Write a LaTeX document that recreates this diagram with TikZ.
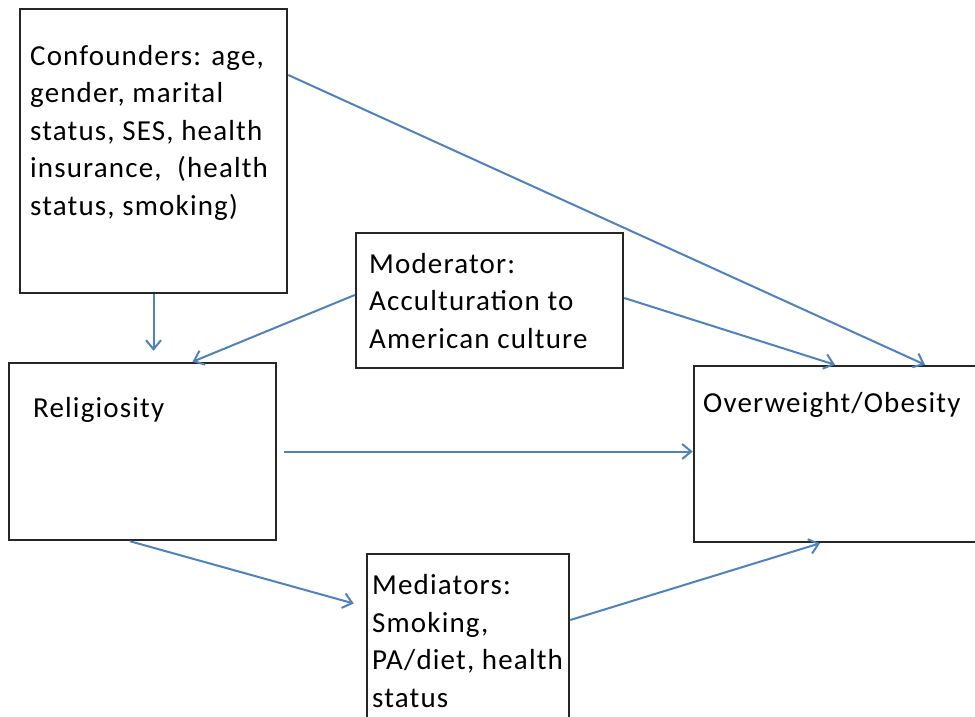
\documentclass[tikz,border=0pt]{standalone}
\usepackage{fontspec}
\setmainfont{Carlito}[LetterSpace=4]
\usetikzlibrary{arrows.meta}
\definecolor{arrowblue}{HTML}{4F81BD}

\begin{document}
\begin{tikzpicture}[x=1pt, y=-1pt, box/.style={rectangle, draw=black!85, line width=2.5pt, inner sep=0pt}, txt/.style={anchor=base west, align=left, inner sep=0pt, font=\fontsize{29}{37.5}\selectfont}, link/.style={draw=arrowblue, line width=2pt, -{Straight Barb[length=9pt, width=15pt]}}]
	\useasboundingbox (0,0) rectangle (975,716);
	% nodes
	\node[box, minimum width=267pt, minimum height=284pt] (conf) at (153.5,151) {};%
	\node[box, minimum width=267pt, minimum height=135pt] (moder) at (489.5,300.5) {};%
	\node[box, minimum width=267pt, minimum height=177pt] (relig) at (142.5,451.5) {};%
	\node[box, minimum width=286pt, minimum height=176pt] (obese) at (837,454) {};%
	\node[box, minimum width=202pt, minimum height=171pt] (medi) at (468,639.5) {};%

	% texts (anchored on the last line)
	\node[txt] (conftxt) at (30,215) {Confounders: age,\\gender, marital\\status, SES, health\\insurance,\ \ (health\\status, smoking)};%
	\node[txt] (modertxt) at (369,348) {Moderator:\\Acculturation to\\American culture};%
	\node[txt] (religtxt) at (33,417) {Religiosity};%
	\node[txt] (obesetxt) at (703,412) {Overweight/Obesity};%
	\node[txt] (meditxt) at (372,707) {Mediators:\\Smoking,\\PA/diet, health\\status};%

	% edges
	\draw [link, shorten >=11pt] (conf.south) -- (conf.south |- relig.north);
	\draw [link] ([yshift=5.5pt]moder.west) -- ([xshift=50pt]relig.north);
	\draw [link] ([yshift=76pt]conf.east) -- ([xshift=88pt]obese.north);
	\draw [link] ([yshift=2.5pt]moder.east) -- ([xshift=-2pt]obese.north);
	\draw [link, shorten <=7pt] (relig.east) -- (relig.east -| obese.west);
	\draw [link] ([xshift=-12.5pt]relig.south) -- ([xshift=-12pt, yshift=36pt]medi.west);
	\draw [link] ([yshift=19.5pt]medi.east) -- ([xshift=-17pt]obese.south);
\end{tikzpicture}
\end{document}
